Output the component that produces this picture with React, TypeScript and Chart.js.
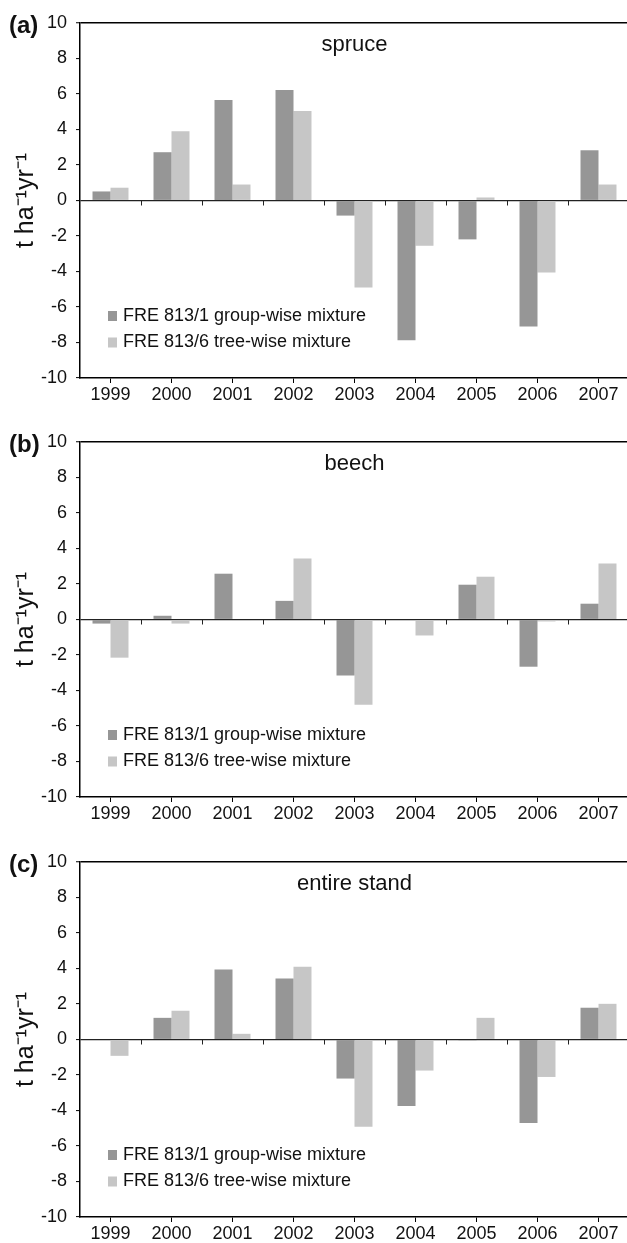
import React, { useEffect, useRef } from 'react';
import { Chart, registerables } from 'chart.js';

Chart.register(...registerables);

const years = ['1999', '2000', '2001', '2002', '2003', '2004', '2005', '2006', '2007'];
const seriesLabels = ['FRE 813/1 group-wise mixture', 'FRE 813/6 tree-wise mixture'];

const spruceGroup = [0.51, 2.72, 5.66, 6.23, -0.85, -7.87, -2.19, -7.1, 2.83];
const spruceTree = [0.72, 3.9, 0.9, 5.04, -4.9, -2.55, 0.17, -4.06, 0.9];
const beechGroup = [-0.23, 0.21, 2.58, 1.05, -3.16, 0, 1.96, -2.66, 0.89];
const beechTree = [-2.15, -0.23, -0.08, 3.43, -4.8, -0.9, 2.41, -0.11, 3.15];
const standGroup = [0, 1.22, 3.94, 3.43, -2.2, -3.75, -0.05, -4.71, 1.79];
const standTree = [-0.92, 1.62, 0.32, 4.1, -4.92, -1.75, 1.22, -2.11, 2.01];

const yTicks = [10, 8, 6, 4, 2, 0, -2, -4, -6, -8, -10];
const panelTitles = ['spruce', 'beech', 'entire stand'];
const panelLetters = ['(a)', '(b)', '(c)'];
const yAxisTitle = 't ha\u207B\u00B9yr\u207B\u00B9';

const DARK = '#969696';
const LIGHT = '#c6c6c6';
const FONT = '"Liberation Sans", Arial, sans-serif';
const TEXT = '#111';

const panelTops = [0, 419, 839];
const CANVAS_W = 640;
const CANVAS_H = 404;
const PLOT_BOTTOM = 378;

const panelPlugin = {
  id: 'panelDecor',
  afterDatasetsDraw(chart: any) {
    const { ctx } = chart;
    const xs = chart.scales.x;
    const ys = chart.scales.y;
    const y0 = ys.getPixelForValue(0);
    ctx.save();
    ctx.strokeStyle = '#222';
    ctx.lineWidth = 1;
    for (let i = 0; i < years.length - 1; i++) {
      const xb = Math.round((xs.getPixelForValue(i) + xs.getPixelForValue(i + 1)) / 2) + 0.5;
      ctx.beginPath();
      ctx.moveTo(xb, y0);
      ctx.lineTo(xb, y0 + 5);
      ctx.stroke();
    }
    ctx.restore();
  },
  afterDraw(chart: any) {
    const { ctx, chartArea } = chart;
    const opts = chart.options.plugins.panelDecor || {};
    ctx.save();
    ctx.fillStyle = TEXT;
    ctx.font = `22px ${FONT}`;
    ctx.textAlign = 'center';
    ctx.textBaseline = 'middle';
    ctx.fillText(opts.title, (chartArea.left + chartArea.right) / 2, chartArea.top + 22);
    ctx.font = `bold 24px ${FONT}`;
    ctx.textAlign = 'left';
    ctx.fillText(opts.letter, 9, chartArea.top + 3);
    const datasets = chart.data.datasets;
    ctx.font = `18px ${FONT}`;
    datasets.forEach((ds: any, i: number) => {
      const cy = chartArea.bottom - 62 + i * 26.5;
      ctx.fillStyle = ds.backgroundColor;
      ctx.fillRect(chartArea.left + 28, cy - 5, 9, 10);
      ctx.fillStyle = TEXT;
      ctx.textBaseline = 'middle';
      ctx.fillText(ds.label, chartArea.left + 43, cy);
    });
    ctx.restore();
  },
};

function Panel({ idx, group, tree }: { idx: number; group: number[]; tree: number[] }) {
  const ref = useRef<HTMLCanvasElement>(null);
  useEffect(() => {
    const chart = new Chart(ref.current as HTMLCanvasElement, {
      type: 'bar',
      data: {
        labels: years,
        datasets: [
          { label: seriesLabels[0], data: group, backgroundColor: DARK, borderWidth: 0 },
          { label: seriesLabels[1], data: tree, backgroundColor: LIGHT, borderWidth: 0 },
        ],
      },
      options: {
        responsive: false,
        animation: false,
        devicePixelRatio: 1,
        layout: { padding: { top: 23, right: CANVAS_W - 629, left: 0, bottom: 0 } },
        datasets: { bar: { barPercentage: 1, categoryPercentage: 0.59 } } as any,
        plugins: {
          legend: { display: false },
          tooltip: { enabled: false },
          title: { display: false },
          panelDecor: { title: panelTitles[idx], letter: panelLetters[idx] },
        } as any,
        scales: {
          x: {
            grid: {
              offset: false,
              drawOnChartArea: false,
              tickLength: 5,
              tickColor: '#000',
              tickWidth: 1,
            },
            border: { display: true, color: '#000', width: 1.5 },
            ticks: {
              color: TEXT,
              font: { family: FONT, size: 18 },
              padding: 1,
              maxRotation: 0,
              autoSkip: false,
            },
            afterFit: (s: any) => {
              s.height = CANVAS_H - PLOT_BOTTOM;
            },
          } as any,
          y: {
            min: -10,
            max: 10,
            afterBuildTicks: (s: any) => {
              s.ticks = yTicks.map((v) => ({ value: v }));
            },
            grid: {
              color: (c: any) =>
                c.tick && c.tick.value === 0 ? '#222' : c.tick && c.tick.value === 10 ? '#000' : 'rgba(0,0,0,0)',
              lineWidth: (c: any) => (c.tick && c.tick.value === 10 ? 1.5 : 1.2),
              tickColor: '#000',
              tickLength: 4,
              tickWidth: 1,
            },
            border: { display: true, color: '#000', width: 1.5 },
            ticks: {
              color: TEXT,
              font: { family: FONT, size: 18 },
              padding: 9,
            },
            title: {
              display: true,
              text: yAxisTitle,
              color: TEXT,
              font: { family: FONT, size: 25 },
              padding: { top: 11, bottom: 4 },
            },
            afterFit: (s: any) => {
              s.width = 80;
            },
          } as any,
        },
      },
      plugins: [panelPlugin as any],
    });
    return () => chart.destroy();
  }, [idx, group, tree]);
  return (
    <div style={{ position: 'absolute', left: 0, top: panelTops[idx] }}>
      <canvas ref={ref} width={CANVAS_W} height={CANVAS_H} style={{ display: 'block', width: CANVAS_W, height: CANVAS_H }} />
    </div>
  );
}

export default function App() {
  return (
    <div
      style={{
        position: 'absolute',
        left: 0,
        top: 0,
        width: 627,
        height: 1243,
        overflow: 'hidden',
        background: '#fff',
      }}
    >
      <Panel idx={0} group={spruceGroup} tree={spruceTree} />
      <Panel idx={1} group={beechGroup} tree={beechTree} />
      <Panel idx={2} group={standGroup} tree={standTree} />
    </div>
  );
}
